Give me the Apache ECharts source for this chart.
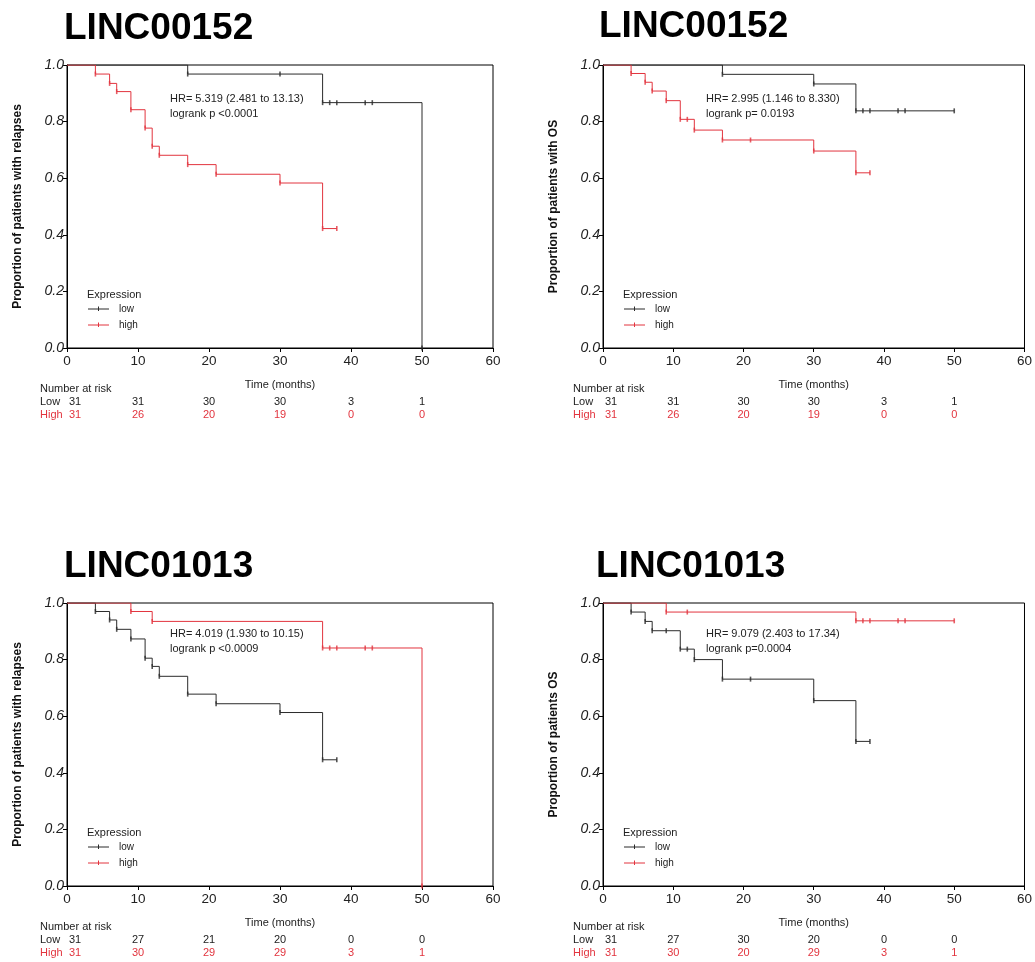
<!DOCTYPE html>
<html>
<head>
<meta charset="utf-8">
<script src="https://cdn.jsdelivr.net/npm/echarts@6/dist/echarts.min.js"></script>
<style>
  html, body { margin: 0; padding: 0; background: #fff; }
  #main { width: 1035px; height: 962px; }
</style>
</head>
<body>
<div id="main"></div>
<script>
/* ---------- data ---------- */
var titles = ['LINC00152', 'LINC00152', 'LINC01013', 'LINC01013'];
var yNames = ['Proportion of patients with relapses', 'Proportion of patients with OS',
              'Proportion of patients with relapses', 'Proportion of patients OS'];
var hrTexts = ['HR= 5.319 (2.481 to 13.13)', 'HR= 2.995 (1.146 to 8.330)',
               'HR= 4.019 (1.930 to 10.15)', 'HR= 9.079 (2.403 to 17.34)'];
var pTexts = ['logrank p <0.0001', 'logrank p= 0.0193', 'logrank p <0.0009', 'logrank p=0.0004'];

var riskTimes = [0, 10, 20, 30, 40, 50];

// panel 1 : LINC00152 relapses
var p1LowT  = [0, 17, 36, 50];
var p1LowS  = [1.0, 0.968, 0.867, 0.0];
var p1LowM  = [17, 30, 36, 37, 38, 42, 43, 50];
var p1HighT = [0, 4, 6, 7, 9, 11, 12, 13, 17, 21, 30, 36, 38];
var p1HighS = [1.0, 0.968, 0.935, 0.906, 0.842, 0.777, 0.713, 0.681, 0.648, 0.614, 0.583, 0.422, 0.422];
var p1HighM = [4, 6, 7, 9, 11, 12, 13, 17, 21, 30, 36, 38];
var p1RiskLow  = [31, 31, 30, 30, 3, 1];
var p1RiskHigh = [31, 26, 20, 19, 0, 0];

// panel 2 : LINC00152 OS
var p2LowT  = [0, 17, 30, 36, 50];
var p2LowS  = [1.0, 0.967, 0.933, 0.838, 0.838];
var p2LowM  = [17, 30, 36, 37, 38, 42, 43, 50];
var p2HighT = [0, 4, 6, 7, 9, 11, 13, 17, 30, 36, 38];
var p2HighS = [1.0, 0.970, 0.939, 0.908, 0.874, 0.808, 0.770, 0.735, 0.696, 0.619, 0.619];
var p2HighM = [4, 6, 7, 9, 11, 12, 13, 17, 21, 30, 36, 38];
var p2RiskLow  = [31, 31, 30, 30, 3, 1];
var p2RiskHigh = [31, 26, 20, 19, 0, 0];

// panel 3 : LINC01013 relapses
var p3LowT  = [0, 4, 6, 7, 9, 11, 12, 13, 17, 21, 30, 36, 38];
var p3LowS  = [1.0, 0.970, 0.940, 0.907, 0.873, 0.805, 0.776, 0.741, 0.678, 0.644, 0.613, 0.446, 0.446];
var p3LowM  = [4, 6, 7, 9, 11, 12, 13, 17, 21, 30, 36, 38];
var p3HighT = [0, 9, 12, 36, 50];
var p3HighS = [1.0, 0.970, 0.935, 0.841, 0.0];
var p3HighM = [9, 12, 36, 37, 38, 42, 43, 50];
var p3RiskLow  = [31, 27, 21, 20, 0, 0];
var p3RiskHigh = [31, 30, 29, 29, 3, 1];

// panel 4 : LINC01013 OS
var p4LowT  = [0, 4, 6, 7, 11, 13, 17, 30, 36, 38];
var p4LowS  = [1.0, 0.968, 0.935, 0.902, 0.837, 0.800, 0.731, 0.655, 0.511, 0.511];
var p4LowM  = [4, 6, 7, 9, 11, 12, 13, 17, 21, 30, 36, 38];
var p4HighT = [0, 9, 36, 50];
var p4HighS = [1.0, 0.968, 0.937, 0.937];
var p4HighM = [9, 12, 36, 37, 38, 42, 43, 50];
var p4RiskLow  = [31, 27, 30, 20, 0, 0];
var p4RiskHigh = [31, 30, 20, 29, 3, 1];

var panels = [
  {lowT: p1LowT, lowS: p1LowS, lowM: p1LowM, highT: p1HighT, highS: p1HighS, highM: p1HighM, rLow: p1RiskLow, rHigh: p1RiskHigh},
  {lowT: p2LowT, lowS: p2LowS, lowM: p2LowM, highT: p2HighT, highS: p2HighS, highM: p2HighM, rLow: p2RiskLow, rHigh: p2RiskHigh},
  {lowT: p3LowT, lowS: p3LowS, lowM: p3LowM, highT: p3HighT, highS: p3HighS, highM: p3HighM, rLow: p3RiskLow, rHigh: p3RiskHigh},
  {lowT: p4LowT, lowS: p4LowS, lowM: p4LowM, highT: p4HighT, highS: p4HighS, highM: p4HighM, rLow: p4RiskLow, rHigh: p4RiskHigh}
];

/* ---------- layout / style ---------- */
var FONT = 'Liberation Sans, Arial, Helvetica, sans-serif';
var BLACK = '#2b2b2b';
var RED = '#e2343e';
var grids = [
  {left: 67,  top: 65,  width: 426, height: 283},
  {left: 603, top: 65,  width: 425, height: 283},
  {left: 67,  top: 603, width: 426, height: 283},
  {left: 603, top: 603, width: 425, height: 283}
];
var titlePos = [[64, 10], [599, 8], [64, 548], [596, 548]];

// survival value right after time t (step function)
function survAt(T, S, t) {
  var v = S[0];
  for (var i = 0; i < T.length; i++) {
    if (T[i] <= t) v = S[i];
  }
  return v;
}
function zip(T, S) {
  return T.map(function (t, i) { return [t, S[i]]; });
}
function markData(T, S, M) {
  return M.map(function (t) { return [t, survAt(T, S, t)]; });
}

var option = {
  backgroundColor: '#fff',
  animation: false,
  textStyle: {fontFamily: FONT},
  title: [],
  grid: [],
  xAxis: [],
  yAxis: [],
  series: []
};

grids.forEach(function (g, i) {
  option.title.push({
    text: titles[i], left: titlePos[i][0], top: titlePos[i][1], padding: 0,
    textStyle: {fontSize: 37, fontWeight: 'bold', color: '#000', fontFamily: FONT}
  });
  option.grid.push({
    left: g.left, top: g.top, width: g.width, height: g.height,
    show: true, borderColor: '#000', borderWidth: 1, backgroundColor: 'transparent'
  });
  option.xAxis.push({
    type: 'value', gridIndex: i, min: 0, max: 60, interval: 10,
    name: 'Time (months)', nameLocation: 'middle', nameGap: 31,
    nameTextStyle: {fontSize: 11, color: '#222', fontFamily: FONT},
    axisLine: {show: true, onZero: false, lineStyle: {color: '#000', width: 1}},
    axisTick: {show: true, length: 4, lineStyle: {color: '#000'}},
    axisLabel: {fontSize: 13.5, color: '#222', margin: 6, fontFamily: FONT},
    splitLine: {show: false}
  });
  option.yAxis.push({
    type: 'value', gridIndex: i, min: 0, max: 1, interval: 0.2,
    name: yNames[i], nameLocation: 'middle', nameGap: 43,
    nameTextStyle: {fontSize: 12, fontWeight: 'bold', color: '#111', fontFamily: FONT},
    axisLine: {show: true, onZero: false, lineStyle: {color: '#000', width: 1}},
    axisTick: {show: true, length: 4, lineStyle: {color: '#000'}},
    axisLabel: {fontSize: 14, color: '#222', fontStyle: 'italic', margin: 3, fontFamily: FONT,
                formatter: function (v) { return v.toFixed(1); }},
    splitLine: {show: false}
  });

  var p = panels[i];
  option.series.push({
    type: 'line', name: 'low', xAxisIndex: i, yAxisIndex: i, step: 'end',
    data: zip(p.lowT, p.lowS), showSymbol: false, symbol: 'none',
    lineStyle: {color: BLACK, width: 1}, z: 3
  });
  option.series.push({
    type: 'line', name: 'high', xAxisIndex: i, yAxisIndex: i, step: 'end',
    data: zip(p.highT, p.highS), showSymbol: false, symbol: 'none',
    lineStyle: {color: RED, width: 1}, z: 3
  });
  option.series.push({
    type: 'scatter', xAxisIndex: i, yAxisIndex: i, symbol: 'rect', symbolSize: [1.6, 5],
    data: markData(p.lowT, p.lowS, p.lowM), itemStyle: {color: BLACK}, z: 4, silent: true
  });
  option.series.push({
    type: 'scatter', xAxisIndex: i, yAxisIndex: i, symbol: 'rect', symbolSize: [1.6, 5],
    data: markData(p.highT, p.highS, p.highM), itemStyle: {color: RED}, z: 4, silent: true
  });
});

var chart = echarts.init(document.getElementById('main'));
chart.setOption(option);

/* ---------- annotations, legends, numbers at risk ---------- */
var graphic = [];
function txt(x, y, s, color, size, align) {
  graphic.push({
    type: 'text', x: x, y: y, silent: true,
    style: {text: s, fill: color, fontSize: size, fontFamily: FONT,
            textAlign: align || 'left', textVerticalAlign: 'middle'}
  });
}
function seg(x1, y1, x2, y2, color) {
  graphic.push({
    type: 'line', silent: true,
    shape: {x1: x1, y1: y1, x2: x2, y2: y2},
    style: {stroke: color, lineWidth: 1}
  });
}

grids.forEach(function (g, i) {
  var p = panels[i];
  // HR / logrank text
  var hx = g.left + 103;
  var hy = g.top + (i < 2 ? 34 : 31);
  txt(hx, hy, hrTexts[i], '#222', 11);
  txt(hx, hy + 15, pTexts[i], '#222', 11);

  // legend
  var lx = g.left + 20, ly = g.top + 230;
  txt(lx, ly, 'Expression', '#222', 11);
  seg(lx + 1, ly + 14, lx + 22, ly + 14, BLACK);
  seg(lx + 11.5, ly + 11.5, lx + 11.5, ly + 16, BLACK);
  txt(lx + 32, ly + 14, 'low', '#222', 10);
  seg(lx + 1, ly + 30, lx + 22, ly + 30, RED);
  seg(lx + 11.5, ly + 27.5, lx + 11.5, ly + 32, RED);
  txt(lx + 32, ly + 30, 'high', '#222', 10);

  // number at risk table
  var bottom = g.top + g.height;
  var nx = g.left - (i % 2 === 0 ? 27 : 30);
  txt(nx, bottom + 41, 'Number at risk', '#222', 11);
  txt(nx, bottom + 54, 'Low', '#222', 11);
  txt(nx, bottom + 67, 'High', RED, 11);
  riskTimes.forEach(function (t, k) {
    var px = chart.convertToPixel({gridIndex: i}, [t, 0])[0];
    if (k === 0) px += 2;
    txt(px, bottom + 54, String(p.rLow[k]), '#222', 11, k === 0 ? 'left' : 'center');
    txt(px, bottom + 67, String(p.rHigh[k]), RED, 11, k === 0 ? 'left' : 'center');
  });
});

chart.setOption({graphic: graphic});
</script>
</body>
</html>
